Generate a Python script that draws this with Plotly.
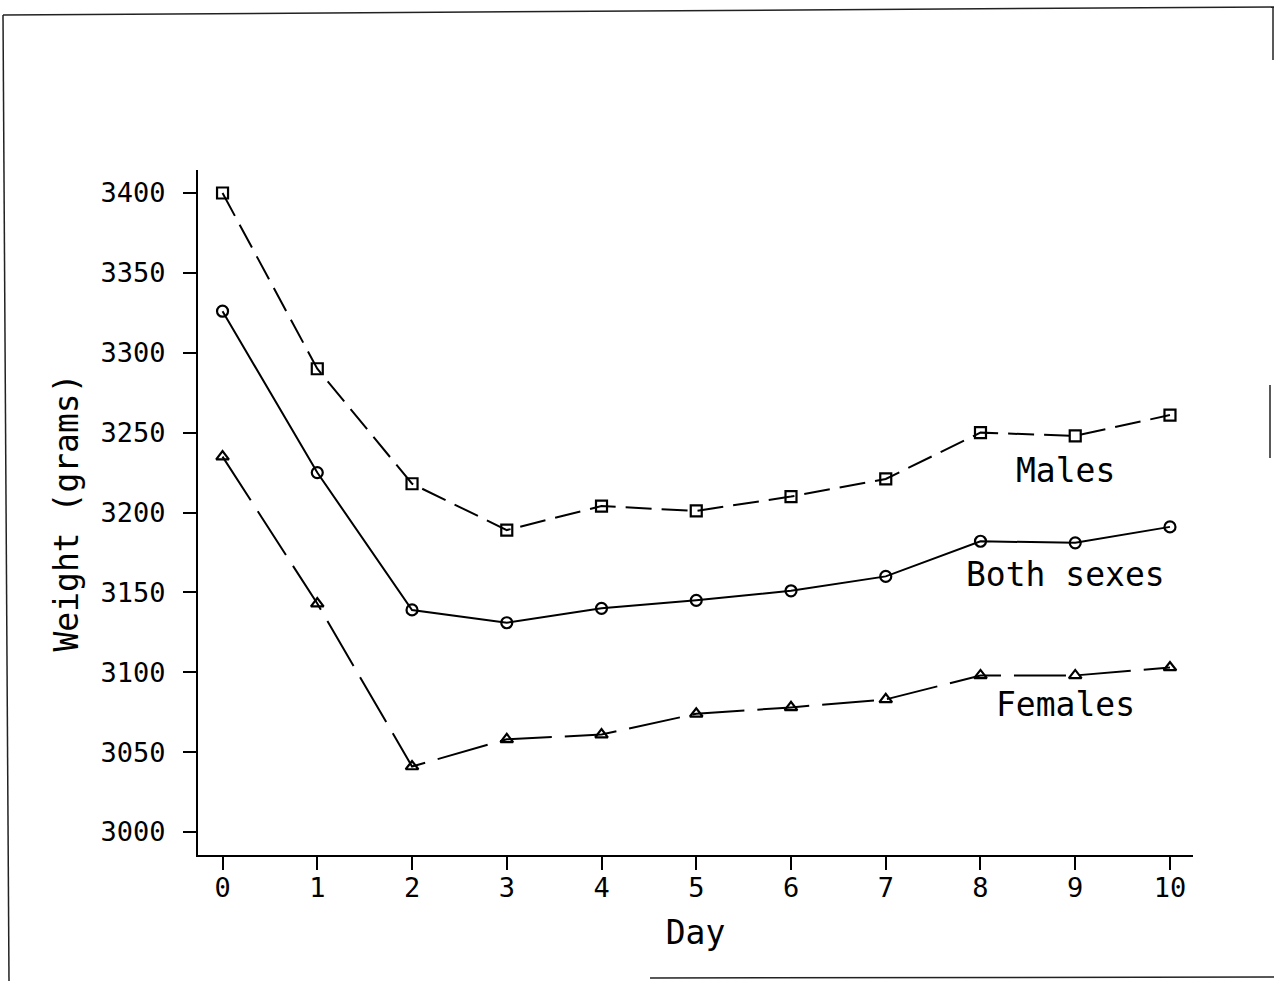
import plotly.graph_objects as go

days = [0, 1, 2, 3, 4, 5, 6, 7, 8, 9, 10]
males = [3400, 3290, 3218, 3189, 3204, 3201, 3210, 3221, 3250, 3248, 3261]
both_sexes = [3326, 3225, 3139, 3131, 3140, 3145, 3151, 3160, 3182, 3181, 3191]
females = [3235, 3143, 3041, 3058, 3061, 3074, 3078, 3083, 3098, 3098, 3103]
y_ticks = [3000, 3050, 3100, 3150, 3200, 3250, 3300, 3350, 3400]
x_ticks = days

FONT = "DejaVu Sans Mono"
W, H = 1274, 981
L, R, T, B = 198, 1193, 170, 855

fig = go.Figure()
fig.add_trace(go.Scatter(
    x=days, y=males, mode="lines+markers", name="Males",
    line=dict(color="black", width=2, dash="26px,10px"),
    marker=dict(symbol="square-open", size=11, color="black", line=dict(width=2.2, color="black")),
))
fig.add_trace(go.Scatter(
    x=days, y=both_sexes, mode="lines+markers", name="Both sexes",
    line=dict(color="black", width=2),
    marker=dict(symbol="circle-open", size=11, color="black", line=dict(width=2.2, color="black")),
))
fig.add_trace(go.Scatter(
    x=days, y=females, mode="lines+markers", name="Females",
    line=dict(color="black", width=2, dash="52px,13px"),
    marker=dict(symbol="triangle-up-open", size=11, color="black", line=dict(width=2.2, color="black")),
))

def px_(x):
    return (x - L) / (R - L)

def py_(y):
    return (B - y) / (B - T)

frame = [
    ((3, 15), (9, 981)),
    ((3, 15), (1274, 7)),
    ((650, 978), (1274, 977)),
    ((1273, 7), (1273, 60)),
    ((1270, 385), (1270, 458)),
]
shapes = []
for (x0, y0), (x1, y1) in frame:
    shapes.append(dict(type="line", xref="paper", yref="paper",
                       x0=px_(x0), y0=py_(y0), x1=px_(x1), y1=py_(y1),
                       line=dict(color="#222", width=1.5)))

annotations = [
    dict(x=8.9, y=3226, text="Males"),
    dict(x=8.9, y=3161, text="Both sexes"),
    dict(x=8.9, y=3080, text="Females"),
]
for a in annotations:
    a.update(xref="x", yref="y", showarrow=False, xanchor="center", yanchor="middle",
             font=dict(family=FONT, size=33, color="black"))

fig.update_layout(
    width=W, height=H,
    margin=dict(l=L, r=W - R, t=T, b=H - B),
    paper_bgcolor="white", plot_bgcolor="white",
    showlegend=False,
    font=dict(family=FONT, color="black"),
    shapes=shapes,
    annotations=annotations,
    xaxis=dict(
        range=[-0.259, 10.243], tickvals=x_ticks, ticktext=[str(v) for v in x_ticks],
        showgrid=False, zeroline=False, showline=True, linecolor="black", linewidth=2,
        ticks="outside", ticklen=13, tickwidth=2, tickcolor="black",
        tickfont=dict(family=FONT, size=27, color="black"),
        ticklabelstandoff=-5,
        title=dict(text="Day", font=dict(family=FONT, size=33, color="black"), standoff=18),
    ),
    yaxis=dict(
        range=[2985.6, 3414.4], tickvals=y_ticks, ticktext=[str(v) for v in y_ticks],
        showgrid=False, zeroline=False, showline=True, linecolor="black", linewidth=2,
        ticks="outside", ticklen=13, tickwidth=2, tickcolor="black",
        tickfont=dict(family=FONT, size=27, color="black"),
        ticklabelstandoff=12,
        title=dict(text="Weight (grams)", font=dict(family=FONT, size=33, color="black"), standoff=12),
    ),
)

fig.write_html("out.html", config={"displayModeBar": False},
               post_script="document.body.style.margin='0';")
